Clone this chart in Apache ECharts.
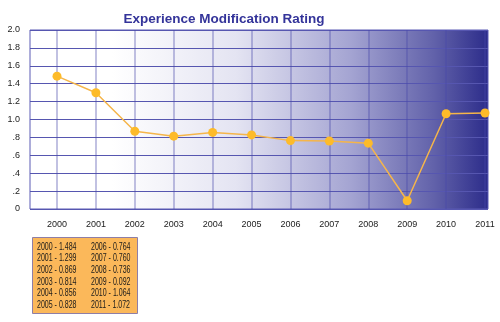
<!DOCTYPE html>
<html>
<head>
<meta charset="utf-8">
<script src="https://cdn.jsdelivr.net/npm/echarts@6/dist/echarts.min.js"></script>
<style>html,body{margin:0;padding:0;background:#fff}#c{width:500px;height:322px}</style>
</head>
<body>
<div id="c"></div>
<script>
var years = ['2000','2001','2002','2003','2004','2005','2006','2007','2008','2009','2010','2011'];
var ratings = [1.484, 1.299, 0.869, 0.814, 0.856, 0.828, 0.764, 0.760, 0.736, 0.092, 1.064, 1.072];
var yTickLabels = {0:'0', 0.2:'.2', 0.4:'.4', 0.6:'.6', 0.8:'.8', 1:'1.0', 1.2:'1.2', 1.4:'1.4', 1.6:'1.6', 1.8:'1.8', 2:'2.0'};

var chart = echarts.init(document.getElementById('c'), null, {renderer:'canvas'});

// legend table built from the data
var tableTexts = [];
for (var i = 0; i < years.length; i++) {
  var col = Math.floor(i / 6), row = i % 6;
  tableTexts.push({
    type:'text', x: 37 + col*54, y: 247 + row*11.6, scaleX:0.67,
    style:{text: years[i] + ' - ' + ratings[i].toFixed(3), fill:'#1a1a1a', verticalAlign:'middle',
      font:'10.5px "Liberation Sans", Arial, sans-serif'}
  });
}

chart.setOption({
  animation:false,
  title:{text:'Experience Modification Rating', left:219, textAlign:'center', top:7,
    textStyle:{color:'#34349a', fontSize:13.5, fontWeight:'bold', fontFamily:'Liberation Sans, Arial, sans-serif'}},
  grid:[
    {left:30, right:12, top:30, bottom:113, show:true, borderColor:'#5a5ab4', borderWidth:1,
      backgroundColor:{type:'linear', x:0, y:0, x2:1, y2:0, colorStops:[
        {offset:0, color:'#ffffff'},{offset:0.18, color:'#ffffff'},{offset:0.45, color:'#e4e4f2'},
        {offset:0.7, color:'#a4a4d2'},{offset:0.88, color:'#6262aa'},{offset:1, color:'#2c2c8a'}]}},
    {left:57, right:15, top:30, bottom:113}
  ],
  xAxis:[
    {gridIndex:0, type:'category', data:years, show:false},
    {gridIndex:1, type:'category', data:years, boundaryGap:false,
      axisLine:{show:false}, axisTick:{show:false},
      axisLabel:{color:'#222', fontSize:9, margin:11, fontFamily:'Liberation Sans, Arial, sans-serif'},
      splitLine:{show:true, lineStyle:{color:'rgba(70,70,170,0.45)', width:1.5}}}
  ],
  yAxis:[
    {gridIndex:0, type:'value', min:0, max:2, interval:0.2,
      axisLine:{show:false}, axisTick:{show:false},
      axisLabel:{color:'#222', fontSize:9, margin:10,
        fontFamily:'Liberation Sans, Arial, sans-serif',
        formatter:function(v){ var k = Math.round(v*10)/10; return yTickLabels[k]; }},
      splitLine:{show:true, lineStyle:{color:'#5656b0', width:1}}},
    {gridIndex:1, type:'value', min:0, max:2, show:false, splitLine:{show:false}}
  ],
  series:[{
    type:'line', xAxisIndex:1, yAxisIndex:1, data:ratings,
    symbol:'circle', symbolSize:9,
    lineStyle:{color:'#f5b54a', width:1.5},
    itemStyle:{color:'#fdbb2a'}
  }],
  graphic:[{type:'rect', left:32, top:237, shape:{width:105, height:76},
    style:{fill:'#fbb85a', stroke:'#8e7ea6', lineWidth:1}}].concat(tableTexts)
});
</script>
</body>
</html>
